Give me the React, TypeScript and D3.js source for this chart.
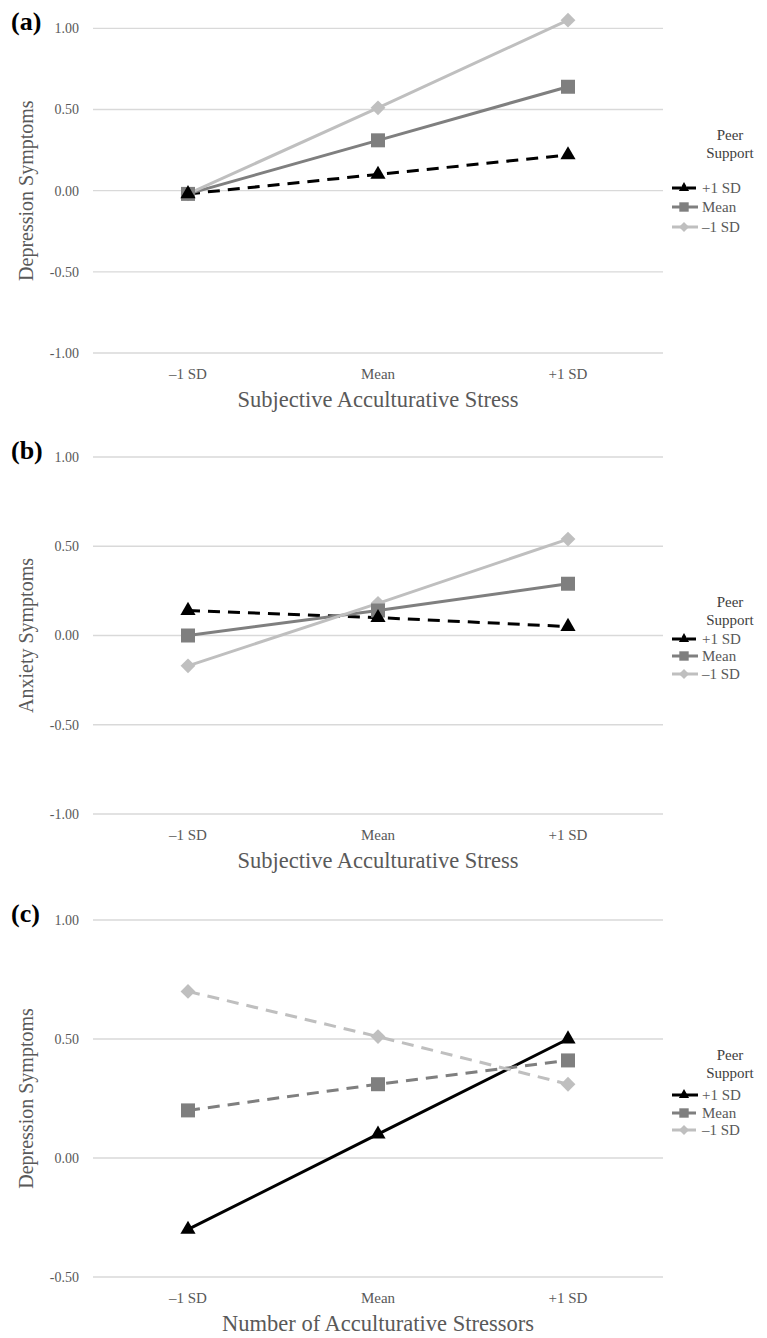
import React from "react";
import * as d3 from "d3";

const categories = ["–1 SD", "Mean", "+1 SD"];
const seriesNames = ["+1 SD", "Mean", "–1 SD"];

// (a) depression by subjective acculturative stress
const depSubjHigh = [-0.02, 0.1, 0.22];
const depSubjMean = [-0.02, 0.31, 0.64];
const depSubjLow = [-0.02, 0.51, 1.05];

// (b) anxiety by subjective acculturative stress
const anxSubjHigh = [0.14, 0.1, 0.05];
const anxSubjMean = [0.0, 0.14, 0.29];
const anxSubjLow = [-0.17, 0.18, 0.54];

// (c) depression by number of stressors
const depNumHigh = [-0.3, 0.1, 0.5];
const depNumMean = [0.2, 0.31, 0.41];
const depNumLow = [0.7, 0.51, 0.31];

const ticksFull = [1, 0.5, 0, -0.5, -1];
const ticksShort = [1, 0.5, 0, -0.5];

const FONT = "'Liberation Serif', 'Times New Roman', serif";
const TEXT = "#595959";
const GRID = "#d9d9d9";

const styleAB = [
  { color: "#000000", dash: "12,8", shape: "triangle" },
  { color: "#7f7f7f", dash: null, shape: "square" },
  { color: "#bfbfbf", dash: null, shape: "diamond" },
];
const styleC = [
  { color: "#000000", dash: null, shape: "triangle" },
  { color: "#7f7f7f", dash: "12,8", shape: "square" },
  { color: "#bfbfbf", dash: "12,8", shape: "diamond" },
];

const Marker = ({ shape, color, x, y, k = 1 }) => {
  let path;
  let rot = 0;
  if (shape === "triangle") {
    path = d3.symbol().type(d3.symbolTriangle).size(100 * k)();
  } else if (shape === "square") {
    path = d3.symbol().type(d3.symbolSquare).size(196 * k)();
  } else {
    path = d3.symbol().type(d3.symbolSquare).size(110 * k)();
    rot = 45;
  }
  return (
    <path
      d={path}
      fill={color}
      transform={`translate(${x},${y}) rotate(${rot})`}
    />
  );
};

const Panel = props => {
  const { top, bottom, domain, ticks, series, styles, label, yTitle, xTitle, legend } = props;
  const left = 93;
  const right = 663;

  const x = d3.scaleBand().domain(categories).range([left, right]);
  const y = d3.scaleLinear().domain(domain).range([bottom, top]);
  const cx = c => x(c) + x.bandwidth() / 2;
  const line = d3
    .line()
    .x((d, i) => cx(categories[i]))
    .y(d => y(d));
  // excel style labels use a plain hyphen
  const fmt = t => d3.format(".2f")(t).replace("−", "-");

  return (
    <g>
      <text x={11} y={top + 2} fontFamily={FONT} fontWeight="bold" fontSize={26} fill="#000">
        {label}
      </text>
      {ticks.map(t => (
        <g key={t}>
          <line x1={left} x2={right} y1={y(t)} y2={y(t)} stroke={GRID} strokeWidth={1.3} />
          <text
            x={79}
            y={y(t)}
            dy="0.35em"
            textAnchor="end"
            fontFamily={FONT}
            fontSize={14}
            fill={TEXT}
          >
            {fmt(t)}
          </text>
        </g>
      ))}
      <text
        transform={`translate(26,${(top + bottom) / 2}) rotate(-90)`}
        textAnchor="middle"
        dy="0.35em"
        fontFamily={FONT}
        fontSize={20}
        fill={TEXT}
      >
        {yTitle}
      </text>
      {categories.map(c => (
        <text
          key={c}
          x={cx(c)}
          y={bottom + 21}
          dy="0.35em"
          textAnchor="middle"
          fontFamily={FONT}
          fontSize={15}
          fill={TEXT}
        >
          {c}
        </text>
      ))}
      <text
        x={(left + right) / 2}
        y={bottom + 46}
        dy="0.35em"
        textAnchor="middle"
        fontFamily={FONT}
        fontSize={22.5}
        fill={TEXT}
      >
        {xTitle}
      </text>

      {series.map((s, i) => (
        <path
          key={"l" + i}
          d={line(s)}
          fill="none"
          stroke={styles[i].color}
          strokeWidth={3}
          strokeDasharray={styles[i].dash || undefined}
        />
      ))}
      {series
        .map((s, i) => ({ s, i }))
        .reverse()
        .map(({ s, i }) =>
          s.map((v, j) => (
            <Marker
              key={"m" + i + "-" + j}
              shape={styles[i].shape}
              color={styles[i].color}
              x={cx(categories[j])}
              y={y(v)}
            />
          ))
        )}

      <text x={730} y={legend.peer} dy="0.35em" textAnchor="middle" fontFamily={FONT} fontSize={15} fill="#404040">
        Peer
      </text>
      <text x={730} y={legend.peer + 18} dy="0.35em" textAnchor="middle" fontFamily={FONT} fontSize={15} fill="#404040">
        Support
      </text>
      {seriesNames.map((n, i) => (
        <g key={n}>
          <line
            x1={672}
            x2={698}
            y1={legend.entries[i]}
            y2={legend.entries[i]}
            stroke={styles[i].color}
            strokeWidth={3}
            strokeDasharray={styles[i].dash ? "9,6" : undefined}
          />
          <Marker shape={styles[i].shape} color={styles[i].color} x={684} y={legend.entries[i]} k={0.45} />
          <text
            x={702}
            y={legend.entries[i]}
            dy="0.35em"
            fontFamily={FONT}
            fontSize={15}
            fill={TEXT}
          >
            {n}
          </text>
        </g>
      ))}
    </g>
  );
};

const App = () => {
  return (
    <svg
      width={767}
      height={1338}
      style={{ position: "absolute", left: 0, top: 0, background: "#fff" }}
    >
      <Panel
        top={28.3}
        bottom={353}
        domain={[-1, 1]}
        ticks={ticksFull}
        series={[depSubjHigh, depSubjMean, depSubjLow]}
        styles={styleAB}
        label="(a)"
        yTitle="Depression Symptoms"
        xTitle="Subjective Acculturative Stress"
        legend={{ peer: 135, entries: [188, 207, 227] }}
      />
      <Panel
        top={457}
        bottom={814}
        domain={[-1, 1]}
        ticks={ticksFull}
        series={[anxSubjHigh, anxSubjMean, anxSubjLow]}
        styles={styleAB}
        label="(b)"
        yTitle="Anxiety Symptoms"
        xTitle="Subjective Acculturative Stress"
        legend={{ peer: 602, entries: [639, 656, 674] }}
      />
      <Panel
        top={920}
        bottom={1277}
        domain={[-0.5, 1]}
        ticks={ticksShort}
        series={[depNumHigh, depNumMean, depNumLow]}
        styles={styleC}
        label="(c)"
        yTitle="Depression Symptoms"
        xTitle="Number of Acculturative Stressors"
        legend={{ peer: 1055, entries: [1095, 1113, 1130] }}
      />
    </svg>
  );
};

export default App;
